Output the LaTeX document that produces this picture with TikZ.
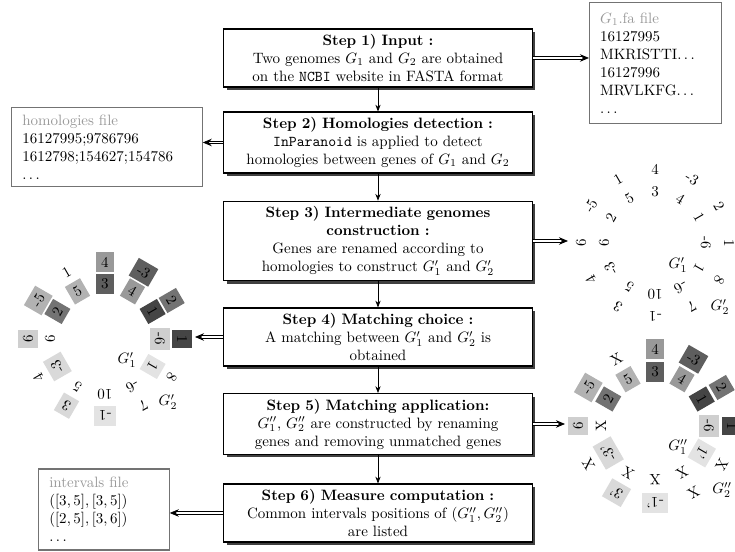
\documentclass[tikz,border=0pt]{standalone}
\usetikzlibrary{shadows,arrows.meta,calc}
\colorlet{cA}{black!40}
\colorlet{cB}{black!63}
\colorlet{cC}{black!55}
\colorlet{cD}{black!73}
\colorlet{cE}{black!19}
\colorlet{cF}{black!30}
\colorlet{cG}{black!11}
\colorlet{cH}{black!15}
\colorlet{filegray}{black!40}
\begin{document}
\begin{tikzpicture}[x=0.6667pt,y=0.6667pt,
  stepbox/.style={draw=black, line width=0.8pt, fill=white, align=center, text width=200pt,
    inner xsep=3pt, inner ysep=3.5pt,
    drop shadow={shadow xshift=2pt, shadow yshift=-2pt, fill=black!75, opacity=1}},
  filebox/.style={draw=black!55, line width=0.7pt, align=left, inner xsep=7pt, inner ysep=4pt},
  flow/.style={-{Stealth[length=4.5pt,width=3.5pt]}, line width=0.5pt},
  dbl/.style={double, double distance=1.2pt, line width=0.5pt, -{Stealth[length=6pt,width=5pt]}},
  gene/.style={inner sep=3.33pt},
]
\useasboundingbox (0,0) rectangle (735,552);

% main steps
\node[stepbox] (s1) at (378,494) {\textbf{Step 1) Input :}\\ Two genomes $G_1$ and $G_2$ are obtained\\ on the \texttt{NCBI} website in FASTA format};
\node[stepbox] (s2) at (378,409.5) {\textbf{Step 2) Homologies detection :}\\ \texttt{InParanoid} is applied to detect\\ homologies between genes of $G_1$ and $G_2$};
\node[stepbox] (s3) at (378,311) {\textbf{Step 3) Intermediate genomes}\\ \textbf{construction :}\\ Genes are renamed according to\\ homologies to construct $G'_1$ and $G'_2$};
\node[stepbox] (s4) at (378,215) {\textbf{Step 4) Matching choice :}\\ A matching between $G'_1$ and $G'_2$ is\\ obtained};
\node[stepbox] (s5) at (378,128) {\textbf{Step 5) Matching application:}\\ $G''_1$, $G''_2$ are constructed by renaming\\ genes and removing unmatched genes};
\node[stepbox] (s6) at (378,39) {\textbf{Step 6) Measure computation :}\\ Common intervals positions of $(G''_1,G''_2)$\\ are listed};

\draw[flow] (s1) -- (s2);
\draw[flow] (s2) -- (s3);
\draw[flow] (s3) -- (s4);
\draw[flow] (s4) -- (s5);
\draw[flow] (s5) -- (s6);

% files
\node[filebox, text width=74pt, minimum height=81pt] (fa) at (655.5,489) {{\color{filegray}$G_1$.fa file}\\ 16127995\\ MKRISTTI$\dots$\\ 16127996\\ MRVLKFG$\dots$\\ $\dots$};
\node[filebox, text width=113pt, minimum height=53pt] (hom) at (107,405) {{\color{filegray}homologies file}\\ 16127995;9786796\\ 1612798;154627;154786\\ $\dots$};
\node[filebox, text width=73pt, minimum height=54pt] (int) at (104,42.5) {{\color{filegray}intervals file}\\ $([3,5],[3,5])$\\ $([2,5],[3,6])$\\ $\dots$};

\draw[dbl] (s1.east) -- (s1.east -| fa.west);
\draw[dbl] (s2.west) -- (s2.west -| hom.east);
\draw[dbl] (s6.west) -- (s6.west -| int.east);

% circle A (step 3)
\coordinate (cA0) at (655,309);
\foreach \a/\t [count=\i] in {90/4,60/-3,30/2,0/1,-30/8,-60/7,-90/-1,-120/3,-150/4,180/6,150/-5,120/1}
  \node[gene, rotate=\a-90] (Ao\i) at ($(cA0)+(\a:74)$) {\t};
\foreach \a/\t [count=\i] in {90/3,60/4,30/1,0/-6,-30/1,-60/-6,-90/10,-120/5,-150/-3,180/6,150/2,120/5}
  \node[gene, rotate=\a-90] (Ai\i) at ($(cA0)+(\a:51)$) {\t};
\node (Ag1) at (678,287) {$G'_1$};
\node (Ag2) at (720,245) {$G'_2$};
\coordinate (a3) at (568,311);
\draw[dbl] (s3.east) -- (a3);

% circle B (step 4)
\coordinate (cB0) at (105,213);
\foreach \a/\t/\c [count=\i] in {90/4/cA,60/-3/cB,30/2/cC,0/1/cD,-30/8/none,-60/7/none,-90/-1/cG,-120/3/cH,-150/4/none,180/6/cE,150/-5/cF,120/1/none}
  \node[gene, fill=\c, rotate=\a-90] (Bo\i) at ($(cB0)+(\a:77)$) {\t};
\foreach \a/\t/\c [count=\i] in {90/3/cB,60/4/cA,30/1/cD,0/-6/cE,-30/1/cG,-60/-6/none,-90/10/none,-120/5/none,-150/-3/cH,180/6/none,150/2/cC,120/5/cF}
  \node[gene, fill=\c, rotate=\a-90] (Bi\i) at ($(cB0)+(\a:55)$) {\t};
\node (Bg1) at (127,192) {$G'_1$};
\node (Bg2) at (168,150) {$G'_2$};
\coordinate (a4) at (195,215);
\draw[dbl] (s4.west) -- (a4);

% circle C (step 5)
\coordinate (cC0) at (655,126);
\foreach \a/\t/\c [count=\i] in {90/4/cA,60/-3/cB,30/2/cC,0/1/cD,-30/X/none,-60/X/none,-90/-1'/cG,-120/3'/cH,-150/X/none,180/6/cE,150/-5/cF,120/X/none}
  \node[gene, fill=\c, rotate=\a-90] (Co\i) at ($(cC0)+(\a:77)$) {\t};
\foreach \a/\t/\c [count=\i] in {90/3/cB,60/4/cA,30/1/cD,0/-6/cE,-30/1'/cG,-60/X/none,-90/X/none,-120/X/none,-150/-3'/cH,180/X/none,150/2/cC,120/5/cF}
  \node[gene, fill=\c, rotate=\a-90] (Ci\i) at ($(cC0)+(\a:54)$) {\t};
\node (Cg1) at (678,105) {$G''_1$};
\node (Cg2) at (722,62) {$G''_2$};
\coordinate (a5) at (565,128);
\draw[dbl] (s5.east) -- (a5);
\end{tikzpicture}
\end{document}
